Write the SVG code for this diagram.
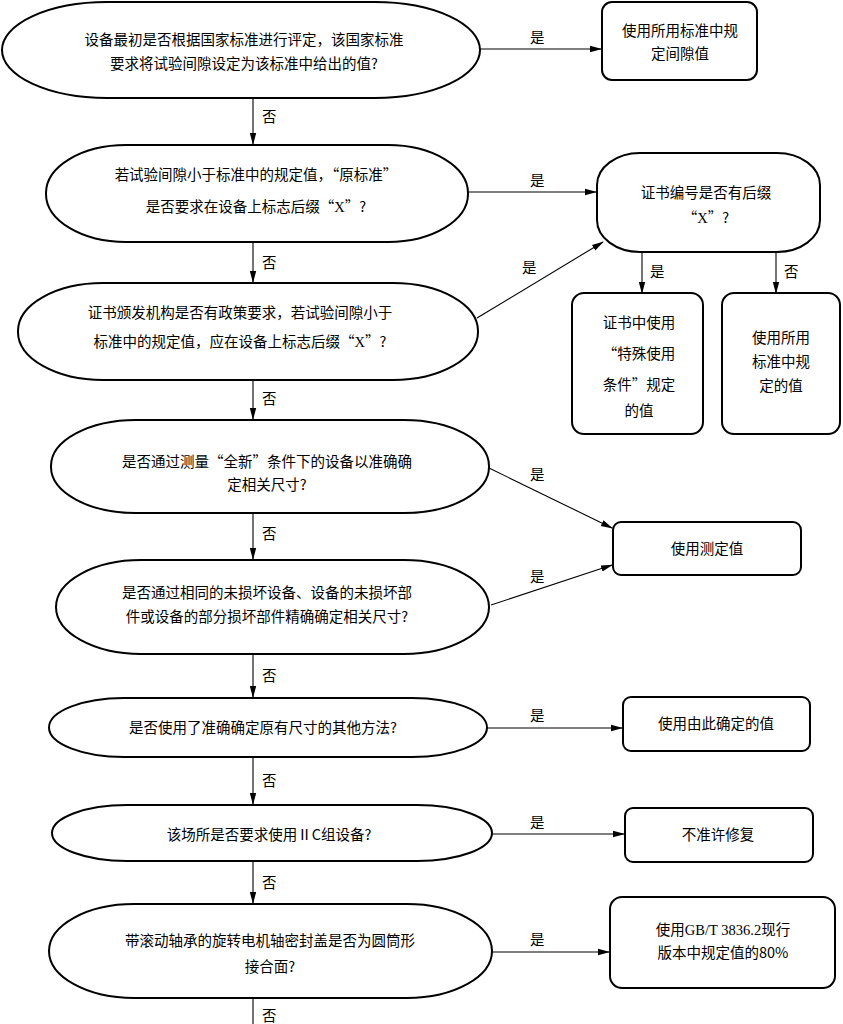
<svg xmlns="http://www.w3.org/2000/svg" width="843" height="1024" viewBox="0 0 843 1024">
<defs>
<marker id="ah" markerWidth="12" markerHeight="8" refX="11" refY="4" orient="auto" markerUnits="userSpaceOnUse">
<path d="M0,0.8 L12,4 L0,7.2 Z" fill="#000"/>
</marker>
<style>
.n{fill:#fff;stroke:#000;stroke-width:2}
.t{font-family:"Noto Sans CJK SC","Liberation Sans",sans-serif;font-size:14.5px;fill:#000;text-anchor:middle}
.l{font-family:"Noto Sans CJK SC","Liberation Sans",sans-serif;font-size:14.5px;fill:#000}
.c{fill:none;stroke:#000;stroke-width:1.1}
.x{font-family:"Liberation Serif",serif}
</style>
</defs>
<rect width="843" height="1024" fill="#fff"/>
<g id="connectors">
<line class="c" x1="480" y1="49" x2="601" y2="49" marker-end="url(#ah)"/>
<line class="c" x1="253" y1="98" x2="253" y2="144" marker-end="url(#ah)"/>
<line class="c" x1="468" y1="192" x2="596" y2="192" marker-end="url(#ah)"/>
<line class="c" x1="253" y1="242" x2="253" y2="282" marker-end="url(#ah)"/>
<line class="c" x1="477" y1="318" x2="603" y2="242" marker-end="url(#ah)"/>
<line class="c" x1="642" y1="253" x2="642" y2="293" marker-end="url(#ah)"/>
<line class="c" x1="776" y1="253" x2="776" y2="293" marker-end="url(#ah)"/>
<line class="c" x1="253" y1="380" x2="253" y2="419" marker-end="url(#ah)"/>
<line class="c" x1="489" y1="468" x2="612" y2="528" marker-end="url(#ah)"/>
<line class="c" x1="253" y1="513" x2="253" y2="559" marker-end="url(#ah)"/>
<line class="c" x1="491" y1="605" x2="612" y2="565" marker-end="url(#ah)"/>
<line class="c" x1="253" y1="654" x2="253" y2="697" marker-end="url(#ah)"/>
<line class="c" x1="487" y1="728" x2="622" y2="728" marker-end="url(#ah)"/>
<line class="c" x1="253" y1="757" x2="253" y2="804" marker-end="url(#ah)"/>
<line class="c" x1="492" y1="834" x2="624" y2="834" marker-end="url(#ah)"/>
<line class="c" x1="253" y1="861" x2="253" y2="903" marker-end="url(#ah)"/>
<line class="c" x1="492" y1="952" x2="609" y2="952" marker-end="url(#ah)"/>
<line class="c" x1="253" y1="998" x2="253" y2="1024"/>
<text class="l" x="530" y="43">是</text>
<text class="l" x="262" y="122">否</text>
<text class="l" x="530" y="186">是</text>
<text class="l" x="262" y="268">否</text>
<text class="l" x="522" y="273">是</text>
<text class="l" x="650" y="277">是</text>
<text class="l" x="784" y="277">否</text>
<text class="l" x="262" y="404">否</text>
<text class="l" x="530" y="480">是</text>
<text class="l" x="262" y="539">否</text>
<text class="l" x="530" y="582">是</text>
<text class="l" x="262" y="681">否</text>
<text class="l" x="530" y="721">是</text>
<text class="l" x="262" y="786">否</text>
<text class="l" x="530" y="828">是</text>
<text class="l" x="262" y="888">否</text>
<text class="l" x="530" y="945">是</text>
<text class="l" x="262" y="1021">否</text>
</g>
<g id="q1">
<rect class="n" x="2" y="2" width="478" height="96" rx="105" ry="48"/>
<text class="t" x="244" y="45">设备最初是否根据国家标准进行评定，该国家标准</text>
<text class="t" x="244" y="69">要求将试验间隙设定为该标准中给出的值?</text>
</g>
<g id="r1">
<rect class="n" x="602" y="2" width="155" height="78" rx="10"/>
<text class="t" x="680" y="36">使用所用标准中规</text>
<text class="t" x="680" y="59">定间隙值</text>
</g>
<g id="q2">
<rect class="n" x="46" y="145" width="422" height="97" rx="80" ry="48"/>
<text class="t" x="256" y="180">若试验间隙小于标准中的规定值，“原标准”</text>
<text class="t" x="256" y="212">是否要求在设备上标志后缀“<tspan class="x">X</tspan>”?</text>
</g>
<g id="q_cert">
<rect class="n" x="597" y="153" width="223" height="99" rx="43" ry="32"/>
<text class="t" x="706" y="198">证书编号是否有后缀</text>
<text class="t" x="706" y="223">“<tspan class="x">X</tspan>”?</text>
</g>
<g id="r_special">
<rect class="n" x="572" y="293" width="131" height="141" rx="12"/>
<text class="t" x="639" y="328">证书中使用</text>
<text class="t" x="639" y="359">“特殊使用</text>
<text class="t" x="639" y="390">条件”规定</text>
<text class="t" x="639" y="416">的值</text>
</g>
<g id="r_std">
<rect class="n" x="722" y="293" width="118" height="141" rx="12"/>
<text class="t" x="781" y="343">使用所用</text>
<text class="t" x="781" y="367">标准中规</text>
<text class="t" x="781" y="391">定的值</text>
</g>
<g id="q3">
<rect class="n" x="18" y="283" width="460" height="97" rx="85" ry="48"/>
<text class="t" x="240" y="318">证书颁发机构是否有政策要求，若试验间隙小于</text>
<text class="t" x="240" y="347">标准中的规定值，应在设备上标志后缀“<tspan class="x">X</tspan>”?</text>
</g>
<g id="q4">
<rect class="n" x="51" y="420" width="438" height="93" rx="85" ry="46"/>
<text class="t" x="267" y="467">是否通过测量“全新”条件下的设备以准确确</text>
<text class="t" x="267" y="490">定相关尺寸?</text>
</g>
<g id="r_measured">
<rect class="n" x="613" y="522" width="188" height="53" rx="8"/>
<text class="t" x="707" y="554">使用测定值</text>
</g>
<g id="q5">
<rect class="n" x="56" y="560" width="433" height="94" rx="85" ry="47"/>
<text class="t" x="267" y="598">是否通过相同的未损坏设备、设备的未损坏部</text>
<text class="t" x="267" y="622">件或设备的部分损坏部件精确确定相关尺寸?</text>
</g>
<g id="q6">
<rect class="n" x="49" y="698" width="438" height="59" rx="75" ry="29.5"/>
<text class="t" x="263" y="733">是否使用了准确确定原有尺寸的其他方法?</text>
</g>
<g id="r_other">
<rect class="n" x="623" y="697" width="187" height="54" rx="8"/>
<text class="t" x="716" y="729">使用由此确定的值</text>
</g>
<g id="q7">
<rect class="n" x="52" y="805" width="440" height="56" rx="75" ry="28"/>
<text class="t" x="269" y="840">该场所是否要求使用ⅡC组设备?</text>
</g>
<g id="r_forbid">
<rect class="n" x="625" y="808" width="188" height="54" rx="8"/>
<text class="t" x="718" y="840">不准许修复</text>
</g>
<g id="q8">
<rect class="n" x="49" y="904" width="443" height="94" rx="85" ry="47"/>
<text class="t" x="270" y="946">带滚动轴承的旋转电机轴密封盖是否为圆筒形</text>
<text class="t" x="270" y="972">接合面?</text>
</g>
<g id="r_80">
<rect class="n" x="610" y="897" width="225" height="91" rx="12"/>
<text class="t" x="723" y="935">使用<tspan class="x">GB/T 3836.2</tspan>现行</text>
<text class="t" x="723" y="958">版本中规定值的80%</text>
</g>
</svg>
